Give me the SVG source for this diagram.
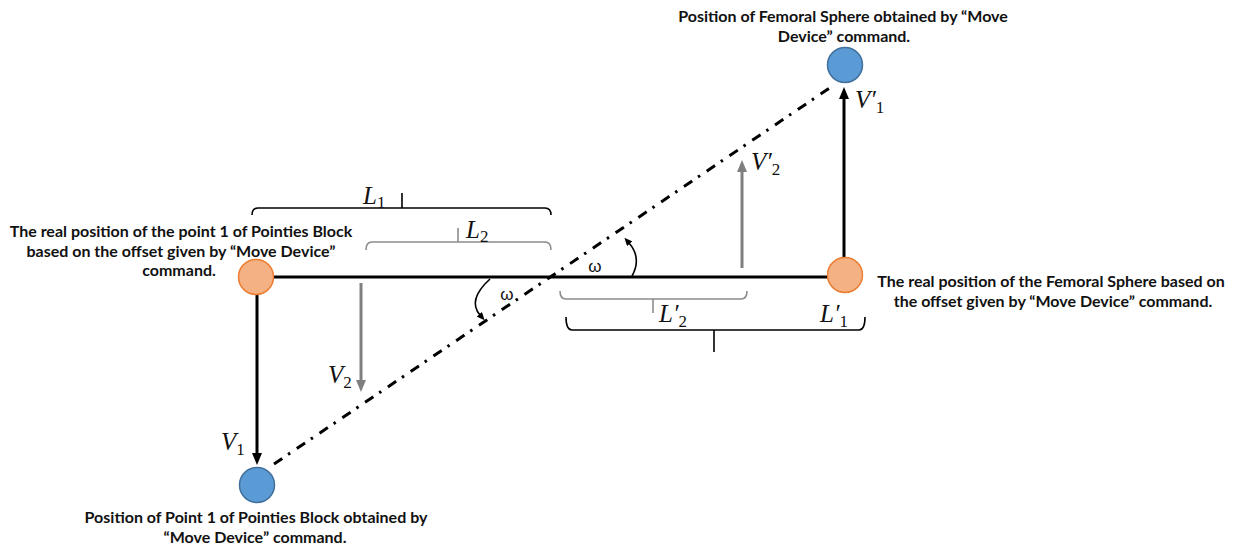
<svg xmlns="http://www.w3.org/2000/svg" width="1234" height="550" viewBox="0 0 1234 550">
<defs>
<style>
.lbl{font-family:Lato,"Liberation Sans",sans-serif;font-weight:bold;font-size:16px;fill:#111;text-anchor:middle}
.m{font-family:"Liberation Serif","DejaVu Serif",serif;font-style:italic;font-size:25px;fill:#111}
.sub{font-style:normal;font-size:17px}
.om{font-family:"Liberation Sans",sans-serif;font-size:17px;fill:#111;text-anchor:middle}
.orange{fill:#F4B183;stroke:#ED7D31;stroke-width:1.5}
.blue{fill:#5B9BD5;stroke:#41719C;stroke-width:1.5}
.blk{stroke:#000;stroke-width:3;fill:none}
.gry{stroke:#7F7F7F;stroke-width:3;fill:none}
.brk{stroke:#000;stroke-width:1.6;fill:none}
.brg{stroke:#8C8C8C;stroke-width:1.6;fill:none}
.dd{stroke:#000;stroke-width:3;fill:none;stroke-dasharray:10 7 2.5 8}
.arc{stroke:#000;stroke-width:1.6;fill:none}
</style>
<marker id="ab" viewBox="0 0 12 10" refX="2" refY="5" markerWidth="12" markerHeight="10" markerUnits="userSpaceOnUse" orient="auto">
<path d="M0,0 L12,5 L0,10 z" fill="#000"/>
</marker>
<marker id="ag" viewBox="0 0 12 10" refX="2" refY="5" markerWidth="12" markerHeight="10" markerUnits="userSpaceOnUse" orient="auto">
<path d="M0,0 L12,5 L0,10 z" fill="#7F7F7F"/>
</marker>
<marker id="as" viewBox="0 0 8 7" refX="1" refY="3.5" markerWidth="8" markerHeight="7" markerUnits="userSpaceOnUse" orient="auto">
<path d="M0,0 L8,3.5 L0,7 z" fill="#000"/>
</marker>
</defs>

<g id="connectors">
<line class="blk" x1="256" y1="277" x2="845" y2="277"/>
<path class="dd" d="M274,464 L834,85"/>
<line class="blk" x1="257" y1="294" x2="257" y2="455" marker-end="url(#ab)"/>
<line class="gry" x1="361" y1="283" x2="361" y2="382" marker-end="url(#ag)"/>
<line class="blk" x1="844" y1="258" x2="844" y2="97" marker-end="url(#ab)"/>
<line class="gry" x1="742" y1="268" x2="742" y2="170" marker-end="url(#ag)"/>
<path class="arc" d="M632,276 Q642,258 629,243" marker-end="url(#as)"/>
<path class="arc" d="M490,279 Q467,300 480,315" marker-end="url(#as)"/>
</g>

<g id="brackets">
<path class="brk" d="M252,215 Q252,208 258,208 H545 Q551,208 551,215 M402,208 V193"/>
<path class="brg" d="M366,250 Q366,242 372,242 H545 Q551,242 551,250 M458,242 V228"/>
<path class="brg" d="M560,291 Q560,299 566,299 H741 Q747,299 747,291 M653,299 V313"/>
<path class="brk" d="M566,317 Q566,330 572,330 H859 Q865,330 865,317 M714,330 V352"/>
</g>

<g id="node-left-real">
<circle class="orange" cx="256" cy="277" r="17.5"/>
<text class="lbl" x="181" y="237">The real position of the point 1 of Pointies Block</text>
<text class="lbl" x="181" y="257">based on the offset given by “Move Device”</text>
<text class="lbl" x="179" y="276">command.</text>
</g>

<g id="node-right-real">
<circle class="orange" cx="845" cy="275" r="17.5"/>
<text class="lbl" x="1051" y="287">The real position of the Femoral Sphere based on</text>
<text class="lbl" x="1053" y="307">the offset given by “Move Device” command.</text>
</g>

<g id="node-top">
<circle class="blue" cx="845" cy="65" r="17.5"/>
<text class="lbl" x="843" y="22">Position of Femoral Sphere obtained by “Move</text>
<text class="lbl" x="844" y="42">Device” command.</text>
</g>

<g id="node-bottom">
<circle class="blue" cx="257" cy="485" r="17.5"/>
<text class="lbl" x="256" y="523">Position of Point 1 of Pointies Block obtained by</text>
<text class="lbl" x="255" y="543">“Move Device” command.</text>
</g>

<g id="labels">
<text class="m" x="363" y="204">L<tspan class="sub" dy="4">1</tspan></text>
<text class="m" x="466" y="238">L<tspan class="sub" dy="4">2</tspan></text>
<text class="m" x="659" y="322">L′<tspan class="sub" dy="5">2</tspan></text>
<text class="m" x="820" y="322">L′<tspan class="sub" dy="5">1</tspan></text>
<text class="m" x="855" y="108">V′<tspan class="sub" dy="5">1</tspan></text>
<text class="m" x="751" y="170">V′<tspan class="sub" dy="5">2</tspan></text>
<text class="m" x="328" y="383">V<tspan class="sub" dy="5">2</tspan></text>
<text class="m" x="221" y="450">V<tspan class="sub" dy="5">1</tspan></text>
<text class="om" x="595" y="272">ω</text>
<text class="om" x="507" y="300">ω</text>
</g>
</svg>
